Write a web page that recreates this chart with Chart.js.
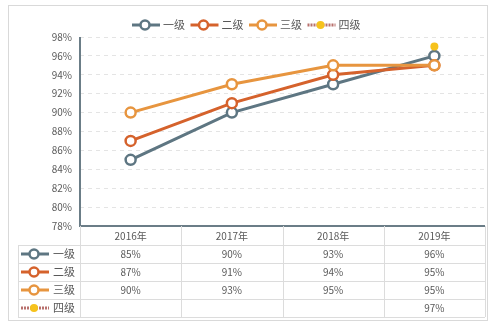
<!DOCTYPE html>
<html>
<head>
<meta charset="utf-8">
<script src="https://cdn.jsdelivr.net/npm/chart.js@4.4.0/dist/chart.umd.min.js"></script>
<style>
    html, body { margin: 0; padding: 0; background: #fff; }
    #wrap { position: relative; width: 501px; height: 326px; }
</style>
</head>
<body>
<div id="wrap"><canvas id="lineChart" width="501" height="326"></canvas></div>
<script>
// Datos del gráfico
const years = ['2016年', '2017年', '2018年', '2019年'];
const seriesNames = ['一级', '二级', '三级', '四级'];
const level1 = [0.85, 0.90, 0.93, 0.96];
const level2 = [0.87, 0.91, 0.94, 0.95];
const level3 = [0.90, 0.93, 0.95, 0.95];
const level4 = [null, null, null, 0.97];
const yTicks = [0.78, 0.80, 0.82, 0.84, 0.86, 0.88, 0.90, 0.92, 0.94, 0.96, 0.98];

// Colores de cada serie
const lineColors = ['#5e7682', '#d5622c', '#e7953f', '#b8706c'];
const dotColor = '#f6c21c';
const textColor = '#595959';
const fontFamily = '"Microsoft YaHei", "Noto Sans CJK SC", "DejaVu Sans", sans-serif';

const pct = v => Math.round(v * 100) + '%';

/**
 * Dibuja el icono de la leyenda (línea + marcador).
 */
function drawIcon(ctx, i, x, y) {
    ctx.save();
    ctx.strokeStyle = lineColors[i];
    ctx.lineWidth = 3;
    if (i === 3) ctx.setLineDash([2, 1]);
    ctx.beginPath();
    ctx.moveTo(x, y);
    ctx.lineTo(x + 28, y);
    ctx.stroke();
    ctx.setLineDash([]);
    ctx.beginPath();
    if (i === 3) {
        ctx.fillStyle = dotColor;
        ctx.arc(x + 13, y, 4, 0, Math.PI * 2);
        ctx.fill();
    } else {
        ctx.fillStyle = '#fff';
        ctx.lineWidth = 2.5;
        ctx.arc(x + 13, y, 4.5, 0, Math.PI * 2);
        ctx.fill();
        ctx.stroke();
    }
    ctx.restore();
}

// Plugin: marco, ejes, leyenda superior y tabla de datos
const tablePlugin = {
    id: 'dataTable',
    beforeDraw(chart) {
        const ctx = chart.ctx;
        ctx.save();
        ctx.strokeStyle = '#d9d9d9';
        ctx.lineWidth = 1;
        ctx.strokeRect(8.5, 5.5, 479, 315);
        ctx.restore();
    },
    afterDatasetsDraw(chart) {
        const ctx = chart.ctx;
        const area = chart.chartArea;
        const xs = chart.scales.x;
        const all = [level1, level2, level3, level4];

        ctx.save();
        // Ejes
        ctx.strokeStyle = '#6b7d87';
        ctx.lineWidth = 2;
        ctx.beginPath();
        ctx.moveTo(area.left, area.top);
        ctx.lineTo(area.left, area.bottom);
        ctx.lineTo(area.right, area.bottom);
        ctx.stroke();

        // Leyenda superior
        ctx.font = '11px ' + fontFamily;
        ctx.textBaseline = 'middle';
        ctx.textAlign = 'left';
        ctx.fillStyle = textColor;
        let lx = 132;
        seriesNames.forEach((name, i) => {
            drawIcon(ctx, i, lx, 25);
            ctx.fillText(name, lx + 31, 25);
            lx += 58.5;
        });

        // Tabla de datos
        const rowH = 18;
        const top = area.bottom;
        const headBottom = top + 19;
        const colEdges = [area.left];
        years.forEach((y, j) => {
            colEdges.push(j < years.length - 1
                ? (xs.getPixelForValue(j) + xs.getPixelForValue(j + 1)) / 2
                : area.right);
        });

        ctx.strokeStyle = '#dcdcdc';
        ctx.lineWidth = 1;
        ctx.beginPath();
        colEdges.forEach(x => {
            ctx.moveTo(Math.round(x) + 0.5, top);
            ctx.lineTo(Math.round(x) + 0.5, headBottom + rowH * 4);
        });
        for (let r = 0; r <= 4; r++) {
            const y = Math.round(headBottom + rowH * r) + 0.5;
            ctx.moveTo(18, y);
            ctx.lineTo(area.right, y);
        }
        ctx.moveTo(18.5, headBottom);
        ctx.lineTo(18.5, headBottom + rowH * 4);
        ctx.stroke();

        ctx.font = '10px ' + fontFamily;
        ctx.fillStyle = textColor;
        ctx.textAlign = 'center';
        years.forEach((y, j) => {
            ctx.fillText(y, xs.getPixelForValue(j), top + 10);
        });
        all.forEach((vals, i) => {
            const cy = headBottom + rowH * i + rowH / 2;
            drawIcon(ctx, i, 21, cy);
            ctx.textAlign = 'left';
            ctx.font = '11px ' + fontFamily;
            ctx.fillText(seriesNames[i], 53, cy);
            ctx.textAlign = 'center';
            ctx.font = '10px ' + fontFamily;
            vals.forEach((v, j) => {
                if (v !== null) ctx.fillText(pct(v), xs.getPixelForValue(j), cy);
            });
        });
        ctx.restore();
    }
};

function makeSet(label, data, color, filled) {
    return {
        label: label,
        data: data,
        borderColor: color,
        backgroundColor: filled ? dotColor : '#fff',
        borderWidth: 3,
        pointRadius: filled ? 4 : 5,
        pointBorderWidth: filled ? 0 : 2.5,
        pointBorderColor: color,
        pointBackgroundColor: filled ? dotColor : '#fff',
        tension: 0,
        fill: false,
    };
}

const ctx = document.getElementById('lineChart').getContext('2d');
const lineChart = new Chart(ctx, {
    type: 'line',
    data: {
        labels: years,
        datasets: [
            makeSet(seriesNames[3], level4, dotColor, true),
            makeSet(seriesNames[2], level3, lineColors[2], false),
            makeSet(seriesNames[1], level2, lineColors[1], false),
            makeSet(seriesNames[0], level1, lineColors[0], false),
        ],
    },
    options: {
        responsive: false,
        animation: false,
        layout: { padding: { top: 37, left: 0, right: 16, bottom: 100 } },
        plugins: { legend: { display: false }, tooltip: { enabled: false } },
        scales: {
            x: {
                display: false,
                offset: true,
            },
            y: {
                min: 0.78,
                max: 0.98,
                afterFit: scale => { scale.width = 80; },
                afterBuildTicks: scale => {
                    scale.ticks = yTicks.map(v => ({ value: v }));
                },
                border: { display: false, dash: [4, 4] },
                grid: { color: '#e4e4e4', drawTicks: false, lineWidth: 1 },
                ticks: {
                    padding: 8,
                    color: textColor,
                    font: { size: 10, family: fontFamily },
                    callback: v => pct(v),
                },
            },
        },
    },
    plugins: [tablePlugin],
});
</script>
</body>
</html>
